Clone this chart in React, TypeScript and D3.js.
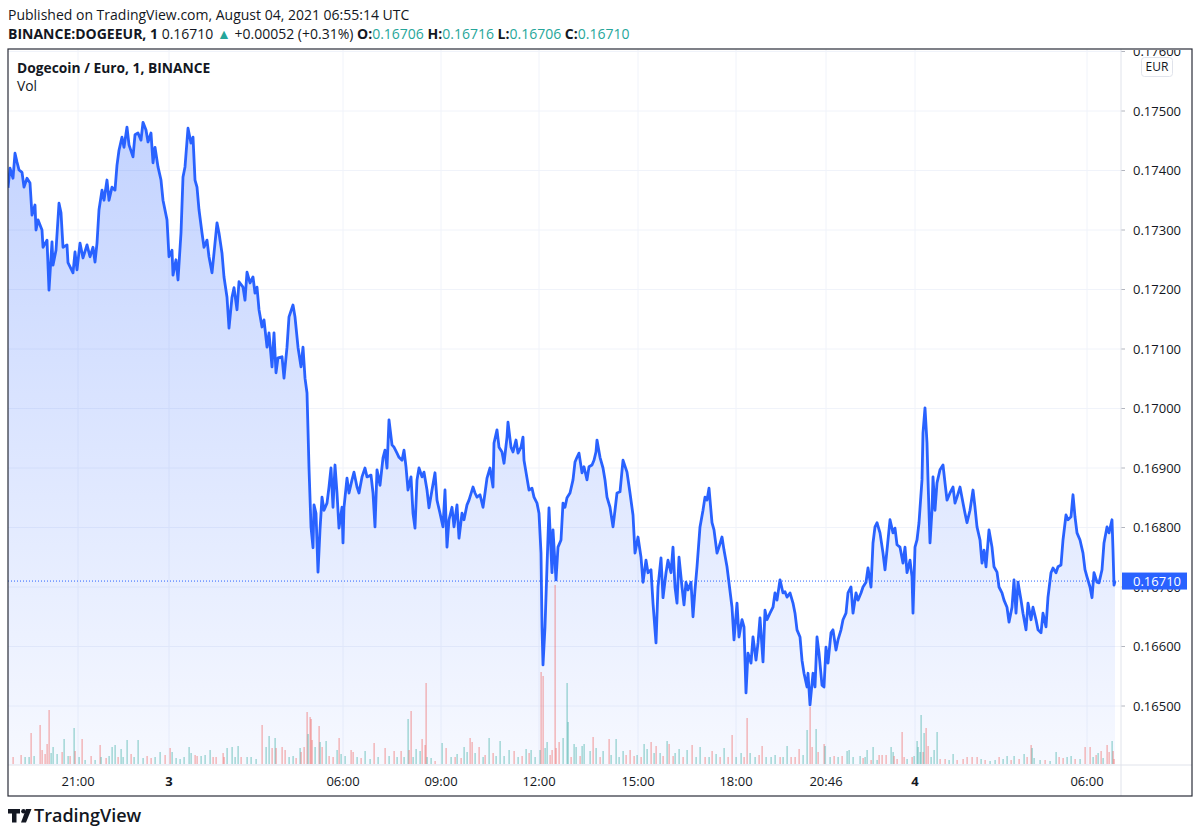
import React from 'react';
import * as d3 from 'd3';

// 1-minute closes, DOGE/EUR on Binance. [bar index, close]
type Pt = [number, number];

const aug2Evening: Pt[] = [
  [0, 0.17371], [4, 0.17404], [10, 0.17387], [14, 0.17429], [18, 0.17414], [22, 0.17401], [28, 0.17397],
  [32, 0.17372], [38, 0.17387], [44, 0.17379], [48, 0.17325], [54, 0.17342], [56, 0.173], [60, 0.17317],
  [68, 0.173], [70, 0.17271], [78, 0.17283], [82, 0.17199], [88, 0.1728], [90, 0.17241], [96, 0.17266],
  [102, 0.17345], [106, 0.17329], [110, 0.17271], [118, 0.17275], [120, 0.17245], [130, 0.17228],
  [134, 0.17263], [138, 0.17233], [144, 0.17278], [150, 0.17253], [158, 0.17275], [164, 0.17255],
  [170, 0.17271], [174, 0.17246], [178, 0.17278], [182, 0.17334], [188, 0.17367], [192, 0.1735],
  [198, 0.17384], [202, 0.1735], [208, 0.17372], [214, 0.17367], [218, 0.17409], [222, 0.17434],
  [228, 0.17456], [232, 0.17439], [238, 0.17473], [242, 0.17443], [250, 0.17423], [254, 0.1746],
  [260, 0.17463], [266, 0.17451], [270, 0.17481], [276, 0.17468], [280, 0.17448], [286, 0.17463],
  [290, 0.17413], [294, 0.17439], [300, 0.17406], [306, 0.17384], [310, 0.1735], [318, 0.17317],
];

const aug3Night: Pt[] = [
  [322, 0.17255], [328, 0.17266], [330, 0.17224], [336, 0.1725], [340, 0.17216], [346, 0.17295],
  [350, 0.17389], [354, 0.17406], [360, 0.17471], [366, 0.17446], [370, 0.17456], [374, 0.17384],
  [378, 0.17372], [382, 0.17334], [388, 0.17295], [392, 0.17271], [398, 0.17283], [402, 0.17255],
  [408, 0.17228], [412, 0.17261], [418, 0.17312], [422, 0.17295], [428, 0.17261], [432, 0.17221],
  [438, 0.17187], [442, 0.17135], [448, 0.17187], [452, 0.17203], [458, 0.17166], [462, 0.17213],
  [470, 0.17204], [474, 0.17182], [478, 0.17229], [484, 0.17211], [490, 0.17221], [494, 0.17194],
  [498, 0.17204], [502, 0.17166], [508, 0.17137], [512, 0.17149], [518, 0.17103], [522, 0.17127],
  [528, 0.1707], [532, 0.17127], [536, 0.1706], [540, 0.17085], [548, 0.17087], [552, 0.17051],
  [558, 0.17103], [562, 0.17154], [570, 0.17174], [574, 0.17154], [580, 0.17103], [586, 0.1707],
  [590, 0.17103], [594, 0.17051], [598, 0.17026], [600, 0.16964], [602, 0.169], [606, 0.16801],
  [610, 0.16766], [612, 0.16838], [616, 0.16824], [620, 0.16725], [624, 0.16796], [628, 0.16851],
  [632, 0.16829], [638, 0.16841], [642, 0.16868], [646, 0.169], [650, 0.16834], [654, 0.16905],
  [658, 0.16858], [662, 0.16799], [668, 0.16834],
];

const aug3Day: Pt[] = [
  [670, 0.16774], [672, 0.16834], [678, 0.16883], [682, 0.16858], [688, 0.1688], [692, 0.16893],
  [698, 0.16868], [702, 0.16858], [708, 0.16885], [714, 0.169], [718, 0.16885], [726, 0.16888],
  [730, 0.16858], [734, 0.16801], [738, 0.16897], [744, 0.16871], [750, 0.16917], [754, 0.1693],
  [758, 0.169], [762, 0.16981], [768, 0.16939], [772, 0.16935], [778, 0.16925], [782, 0.16918],
  [788, 0.16913], [792, 0.1693], [796, 0.16902], [800, 0.16863], [806, 0.16885], [810, 0.16824],
  [814, 0.16799], [818, 0.1688], [822, 0.169], [828, 0.16885], [832, 0.16893], [838, 0.16863],
  [842, 0.16833], [848, 0.16863], [854, 0.16892], [858, 0.16846], [864, 0.16824], [870, 0.16801],
  [874, 0.16863], [878, 0.16767], [882, 0.16813], [888, 0.16834], [892, 0.16801], [898, 0.16838],
  [902, 0.16782], [908, 0.16824], [912, 0.16813], [918, 0.16838], [922, 0.16846], [930, 0.16868],
  [934, 0.16858], [938, 0.16851], [944, 0.16855], [950, 0.16834], [954, 0.16858], [958, 0.16883],
  [964, 0.169], [970, 0.16868], [972, 0.16942], [978, 0.16964], [982, 0.16935], [988, 0.16927],
  [992, 0.16908], [998, 0.16952], [1000, 0.16977], [1006, 0.16935], [1010, 0.16927], [1016, 0.16947],
  [1020, 0.16925], [1026, 0.16935], [1030, 0.16952], [1032, 0.16913], [1038, 0.16883], [1042, 0.16863],
  [1048, 0.16866], [1052, 0.16851], [1058, 0.16841], [1062, 0.16824], [1066, 0.16757], [1068, 0.16633],
  [1070, 0.16569], [1074, 0.16633], [1078, 0.16734], [1082, 0.16833], [1088, 0.16724], [1090, 0.16796],
  [1096, 0.16712], [1100, 0.16767], [1106, 0.16779], [1110, 0.16841], [1114, 0.16834], [1118, 0.1685],
  [1124, 0.16858], [1130, 0.1688], [1134, 0.1691], [1138, 0.16918], [1142, 0.16925], [1148, 0.16892],
  [1152, 0.16902], [1158, 0.1688], [1162, 0.16902], [1168, 0.16905], [1172, 0.16913], [1176, 0.16927],
  [1178, 0.16947], [1184, 0.16918], [1190, 0.169], [1194, 0.1688], [1198, 0.16851], [1204, 0.16834],
  [1210, 0.16801], [1214, 0.16829], [1218, 0.16858],
];

const aug3Evening: Pt[] = [
  [1224, 0.1686], [1230, 0.16913], [1238, 0.16893], [1244, 0.16858], [1250, 0.16821], [1254, 0.16757],
  [1260, 0.16784], [1266, 0.1675], [1270, 0.16708], [1276, 0.16745], [1280, 0.16724], [1286, 0.16729],
  [1290, 0.16673], [1296, 0.16606], [1300, 0.167], [1306, 0.16749], [1310, 0.16682], [1316, 0.16724],
  [1320, 0.16745], [1326, 0.16724], [1330, 0.16767], [1334, 0.167], [1338, 0.16673], [1342, 0.1675],
  [1348, 0.167], [1352, 0.1667], [1356, 0.16708], [1360, 0.16695], [1366, 0.16708], [1370, 0.1665],
  [1374, 0.16695], [1378, 0.16734], [1384, 0.16801], [1390, 0.16829], [1394, 0.16851], [1398, 0.16846],
  [1402, 0.16866], [1408, 0.16808], [1412, 0.16796], [1418, 0.16757], [1422, 0.16767], [1428, 0.16784],
  [1432, 0.16762], [1438, 0.16734], [1442, 0.16707], [1448, 0.16666], [1452, 0.16611], [1458, 0.16673],
  [1462, 0.16616], [1468, 0.16645], [1472, 0.16633], [1476, 0.16522], [1480, 0.16589], [1486, 0.16572],
  [1490, 0.16616], [1496, 0.16577], [1500, 0.16606], [1504, 0.16648], [1510, 0.16574], [1514, 0.16661],
  [1518, 0.16645], [1524, 0.16656], [1530, 0.16666], [1534, 0.1669], [1538, 0.16678], [1544, 0.16712],
  [1550, 0.1669], [1554, 0.16692], [1558, 0.16683], [1564, 0.1669], [1570, 0.16673], [1574, 0.16656],
  [1578, 0.16628], [1584, 0.16616], [1588, 0.16577], [1592, 0.16555], [1598, 0.16532], [1600, 0.16555],
  [1604, 0.16502], [1610, 0.16555], [1614, 0.16532], [1618, 0.16616], [1622, 0.16589], [1628, 0.16535],
  [1632, 0.16532], [1636, 0.16599], [1640, 0.16572], [1646, 0.16623], [1650, 0.16628], [1656, 0.16594],
  [1660, 0.16611], [1666, 0.16628], [1670, 0.16645], [1676, 0.16656], [1680, 0.1669], [1686, 0.167],
  [1690, 0.16656], [1696, 0.1669], [1700, 0.16678], [1706, 0.1669], [1710, 0.167], [1716, 0.16708],
  [1720, 0.16732], [1726, 0.167], [1730, 0.16774], [1734, 0.16801], [1738, 0.16808], [1744, 0.16791],
  [1750, 0.16757], [1754, 0.16729], [1758, 0.16762], [1764, 0.16813], [1770, 0.16791], [1774, 0.16799],
  [1778, 0.16771], [1784, 0.16767], [1790, 0.1674], [1794, 0.16767], [1798, 0.16724], [1804, 0.16745],
  [1808, 0.16717], [1810, 0.16656],
];

const aug4Morning: Pt[] = [
  [1814, 0.16767], [1818, 0.16779], [1822, 0.16808], [1828, 0.1688], [1830, 0.16959], [1834, 0.17001],
  [1838, 0.16942], [1840, 0.1688], [1844, 0.16774], [1848, 0.16829], [1850, 0.16885], [1854, 0.16829],
  [1858, 0.16875], [1864, 0.16897], [1870, 0.16905], [1874, 0.16875], [1878, 0.16846], [1884, 0.16858],
  [1890, 0.16868], [1894, 0.16841], [1898, 0.16851], [1904, 0.16868], [1910, 0.16841], [1914, 0.16824],
  [1918, 0.16808], [1924, 0.16829], [1930, 0.16863], [1934, 0.16834], [1938, 0.16801], [1944, 0.16779],
  [1948, 0.1674], [1952, 0.16762], [1956, 0.16734], [1962, 0.16796], [1968, 0.16767], [1972, 0.16734],
  [1978, 0.16725], [1982, 0.167], [1988, 0.1669], [1992, 0.16678], [1998, 0.16666], [2002, 0.16641],
  [2008, 0.16666], [2012, 0.16712], [2016, 0.16656], [2020, 0.16708], [2026, 0.16678], [2030, 0.16656],
  [2036, 0.16628], [2040, 0.16673], [2046, 0.16645], [2050, 0.16666], [2056, 0.16645], [2060, 0.16628],
  [2066, 0.16623], [2070, 0.16656], [2076, 0.16633], [2080, 0.16683], [2086, 0.16724], [2090, 0.16732],
  [2096, 0.16724], [2100, 0.16734], [2106, 0.16737], [2110, 0.16779], [2116, 0.16821], [2120, 0.16813],
  [2126, 0.16818], [2130, 0.16855], [2134, 0.16818], [2138, 0.16791], [2144, 0.16779], [2150, 0.16757],
  [2154, 0.16729], [2158, 0.16717], [2164, 0.167], [2168, 0.16682], [2172, 0.16724], [2178, 0.16708],
  [2182, 0.16707], [2188, 0.16729], [2192, 0.16774], [2198, 0.16801], [2202, 0.16791], [2208, 0.16813],
  [2210, 0.16762], [2212, 0.16703], [2214, 0.1671],
];

// volume spikes: [bar, volume in k DOGE, 1 = up / -1 = down]
type Vol = [number, number, number];
const volumeBars: Vol[] = [
  [10, 7, -1], [26, 9, -1], [34, 7, 1], [42, 7, 1], [46, 31, -1], [52, 8, 1], [64, 39, -1], [68, 14, -1],
  [74, 10, -1], [78, 20, -1], [82, 54, -1], [86, 11, 1], [90, 17, 1], [98, 10, 1], [108, 12, -1],
  [112, 25, 1], [120, 8, 1], [124, 8, -1], [132, 36, 1], [134, 13, -1], [142, 7, 1], [148, 25, -1],
  [154, 4, 1], [166, 8, -1], [174, 4, 1], [184, 19, -1], [186, 7, 1], [196, 6, -1], [202, 8, 1],
  [208, 17, 1], [214, 19, 1], [220, 7, -1], [226, 15, 1], [230, 7, 1], [238, 24, 1], [246, 10, -1],
  [252, 7, 1], [260, 24, 1], [270, 6, 1], [278, 8, -1], [286, 6, -1], [294, 7, 1], [304, 12, 1],
  [314, 9, -1], [324, 16, -1], [328, 12, 1], [336, 6, 1], [344, 5, 1], [352, 7, 1], [362, 17, 1],
  [366, 11, 1], [374, 9, -1], [378, 8, -1], [386, 8, 1], [394, 9, 1], [404, 14, 1], [410, 7, -1],
  [416, 7, -1], [430, 11, -1], [432, 7, -1], [438, 16, 1], [448, 17, 1], [454, 7, 1], [460, 18, 1],
  [466, 7, -1], [478, 7, 1], [486, 7, 1], [496, 5, 1], [508, 39, -1], [516, 17, 1], [522, 28, 1],
  [528, 16, -1], [534, 26, 1], [536, 16, -1], [548, 17, -1], [554, 14, -1], [562, 7, 1], [570, 8, 1],
  [576, 6, -1], [584, 16, 1], [586, 12, -1], [592, 17, -1], [598, 52, -1], [600, 30, 1], [604, 47, -1],
  [606, 45, -1], [608, 24, -1], [614, 17, 1], [622, 38, -1], [624, 22, 1], [628, 17, -1], [636, 23, 1],
  [642, 8, -1], [650, 7, -1], [658, 14, 1], [662, 26, -1], [666, 10, 1], [674, 8, 1], [686, 14, -1],
  [690, 12, -1], [698, 7, 1], [706, 6, -1], [714, 13, 1], [724, 5, 1], [732, 21, -1], [740, 7, 1],
  [754, 16, -1], [762, 8, 1], [772, 13, -1], [778, 7, 1], [786, 13, -1], [792, 7, 1], [800, 45, 1],
  [802, 14, -1], [806, 53, -1], [810, 7, 1], [816, 15, 1], [824, 13, 1], [828, 25, -1], [834, 19, -1],
  [836, 81, -1], [838, 7, 1], [846, 6, 1], [854, 3, -1], [868, 21, 1], [876, 16, -1], [886, 7, 1],
  [894, 7, -1], [898, 10, 1], [906, 6, -1], [912, 17, 1], [918, 12, 1], [924, 26, -1], [928, 22, -1],
  [934, 11, 1], [942, 17, -1], [950, 7, 1], [954, 9, -1], [962, 26, 1], [970, 11, -1], [976, 8, 1],
  [984, 23, 1], [992, 8, 1], [1002, 14, 1], [1012, 13, -1], [1020, 7, 1], [1028, 8, -1], [1036, 15, 1],
  [1042, 11, -1], [1046, 14, 1], [1054, 7, 1], [1064, 14, 1], [1066, 92, -1], [1070, 88, -1],
  [1074, 16, 1], [1078, 22, 1], [1084, 9, -1], [1088, 14, -1], [1094, 179, -1], [1096, 16, -1],
  [1102, 22, -1], [1110, 26, 1], [1118, 81, 1], [1120, 42, 1], [1126, 7, -1], [1132, 20, 1],
  [1136, 17, 1], [1144, 8, -1], [1148, 18, 1], [1152, 20, 1], [1164, 13, 1], [1170, 27, -1],
  [1176, 16, 1], [1184, 7, -1], [1190, 13, 1], [1202, 25, -1], [1206, 9, 1], [1216, 25, 1], [1222, 7, 1],
  [1230, 13, 1], [1236, 9, -1], [1244, 14, -1], [1252, 8, -1], [1258, 9, 1], [1266, 7, -1], [1272, 20, 1],
  [1278, 15, 1], [1286, 22, -1], [1292, 11, 1], [1296, 18, -1], [1304, 11, 1], [1310, 8, -1],
  [1318, 23, 1], [1322, 20, -1], [1330, 8, -1], [1334, 11, 1], [1342, 15, 1], [1350, 7, -1],
  [1358, 14, 1], [1368, 19, -1], [1376, 7, 1], [1384, 17, 1], [1394, 7, -1], [1402, 7, 1], [1408, 13, -1],
  [1416, 10, 1], [1424, 7, -1], [1432, 16, 1], [1440, 7, -1], [1448, 29, -1], [1456, 7, 1], [1466, 11, 1],
  [1472, 7, -1], [1478, 46, -1], [1484, 11, 1], [1494, 7, 1], [1502, 9, -1], [1508, 18, -1], [1516, 7, 1],
  [1526, 7, 1], [1534, 9, 1], [1544, 7, -1], [1550, 7, 1], [1558, 18, 1], [1566, 7, -1], [1574, 7, -1],
  [1582, 15, -1], [1590, 9, 1], [1598, 34, 1], [1604, 57, -1], [1608, 17, -1], [1616, 35, 1],
  [1620, 12, -1], [1632, 20, -1], [1634, 18, 1], [1644, 7, 1], [1652, 8, -1], [1660, 7, 1], [1668, 8, -1],
  [1678, 13, 1], [1682, 14, 1], [1690, 7, 1], [1704, 8, 1], [1710, 6, -1], [1714, 7, 1], [1718, 14, 1],
  [1726, 4, -1], [1730, 17, 1], [1738, 4, 1], [1742, 9, -1], [1748, 9, -1], [1756, 9, -1], [1766, 17, 1],
  [1770, 12, 1], [1772, 8, -1], [1778, 5, -1], [1788, 32, -1], [1792, 7, -1], [1798, 5, 1], [1808, 7, -1],
  [1812, 8, 1], [1818, 23, 1], [1820, 17, 1], [1824, 12, 1], [1826, 49, 1], [1830, 12, -1], [1832, 31, 1],
  [1836, 36, -1], [1840, 18, -1], [1846, 7, 1], [1852, 14, 1], [1858, 32, 1], [1864, 5, -1], [1874, 5, -1],
  [1882, 4, 1], [1890, 10, 1], [1898, 4, -1], [1910, 5, -1], [1918, 7, -1], [1928, 7, -1], [1938, 7, -1],
  [1946, 5, 1], [1954, 4, -1], [1964, 3, 1], [1974, 4, 1], [1982, 7, -1], [1990, 5, 1], [1998, 8, 1],
  [2006, 4, -1], [2012, 8, 1], [2022, 5, -1], [2032, 10, 1], [2038, 7, -1], [2046, 19, -1], [2048, 16, 1],
  [2052, 6, 1], [2064, 4, 1], [2074, 4, -1], [2084, 3, 1], [2096, 12, 1], [2102, 7, -1], [2110, 6, -1],
  [2118, 7, 1], [2126, 8, 1], [2134, 5, -1], [2144, 5, 1], [2154, 17, -1], [2164, 17, -1], [2170, 7, 1],
  [2176, 9, -1], [2180, 11, 1], [2186, 13, -1], [2190, 6, 1], [2198, 19, -1], [2202, 12, -1],
  [2208, 23, 1], [2210, 13, -1], [2212, 5, -1],
];

const timeTickBars = [140, 322, 670, 866, 1062, 1260, 1456, 1636, 1814, 2158];
const timeTickLabels = ['21:00', '3', '06:00', '09:00', '12:00', '15:00', '18:00', '20:46', '4', '06:00'];
const dayStarts = ['3', '4'];
const priceTicks = [0.165, 0.166, 0.167, 0.168, 0.169, 0.17, 0.171, 0.172, 0.173, 0.174, 0.175, 0.176];
const lastPrice = 0.1671;
const lastBar = 2214;

const FONT = '"Open Sans", "Noto Sans", sans-serif';
const TEXT = '#131722';
const TEAL = '#26a69a';
const BLUE = '#2962ff';

// frame geometry
const frame = { left: 8, top: 49, right: 1192, bottom: 796 };
const axisX = 1121; // price scale border
const paneBottom = 765;

export default function App() {
  const series = [...aug2Evening, ...aug3Night, ...aug3Day, ...aug3Evening, ...aug4Morning];

  const x = d3.scaleLinear().domain([0, lastBar]).range([8, 1115]);
  const y = d3.scaleLinear().domain([0.165, 0.175]).range([706, 111]);
  const vol = d3.scaleLinear().domain([0, 179]).range([764, 585]);

  const line = d3
    .line<Pt>()
    .x((d) => x(d[0]))
    .y((d) => y(d[1]));

  const area = d3
    .area<Pt>()
    .x((d) => x(d[0]))
    .y0(paneBottom)
    .y1((d) => y(d[1]));

  const topY = y(d3.max(series, (d) => d[1]) as number);

  return (
    <svg
      width={1200}
      height={837}
      style={{ position: 'absolute', left: 0, top: 0, background: '#fff' }}
      fontFamily={FONT}
    >
      <defs>
        <linearGradient id="areaFill" gradientUnits="userSpaceOnUse" x1={0} x2={0} y1={topY} y2={paneBottom}>
          <stop offset="0%" stopColor={BLUE} stopOpacity={0.28} />
          <stop offset="100%" stopColor={BLUE} stopOpacity={0.04} />
        </linearGradient>
        <clipPath id="pane">
          <rect x={frame.left} y={frame.top} width={axisX - frame.left} height={paneBottom - frame.top} />
        </clipPath>
        <clipPath id="priceAxis">
          <rect x={axisX} y={frame.top + 1} width={frame.right - axisX} height={paneBottom - frame.top} />
        </clipPath>
      </defs>

      {/* header */}
      <text x={8} y={20} fontSize={14} fill={TEXT}>
        Published on TradingView.com, August 04, 2021 06:55:14 UTC
      </text>
      <text x={8} y={39} fontSize={14} fill={TEXT} style={{ whiteSpace: 'pre' }}>
        <tspan fontWeight={700}>BINANCE:DOGEEUR, 1</tspan>
        <tspan> 0.16710 </tspan>
        <tspan fill={TEAL}>▲</tspan>
        <tspan> +0.00052 (+0.31%) </tspan>
        <tspan fontWeight={700}>O:</tspan>
        <tspan fill={TEAL}>0.16706</tspan>
        <tspan fontWeight={700}> H:</tspan>
        <tspan fill={TEAL}>0.16716</tspan>
        <tspan fontWeight={700}> L:</tspan>
        <tspan fill={TEAL}>0.16706</tspan>
        <tspan fontWeight={700}> C:</tspan>
        <tspan fill={TEAL}>0.16710</tspan>
      </text>

      {/* pane */}
      <g clipPath="url(#pane)">
        {priceTicks.map((p) => (
          <line key={p} x1={frame.left} x2={axisX} y1={y(p)} y2={y(p)} stroke="#f0f3fa" />
        ))}
        {timeTickBars.map((b, i) => (
          <line key={i} x1={x(b)} x2={x(b)} y1={frame.top} y2={paneBottom} stroke="#f0f3fa" />
        ))}
        <path d={area(series) ?? ''} fill="url(#areaFill)" />
        {volumeBars.map(([b, v, dir], i) => (
          <rect
            key={i}
            x={x(b) - 0.5}
            width={1.2}
            y={vol(v)}
            height={vol(0) - vol(v)}
            fill={dir > 0 ? 'rgba(38,166,154,0.5)' : 'rgba(239,83,80,0.5)'}
          />
        ))}
        <path d={line(series) ?? ''} fill="none" stroke={BLUE} strokeWidth={2.8} strokeLinejoin="round" />
        <line
          x1={frame.left}
          x2={axisX}
          y1={y(lastPrice)}
          y2={y(lastPrice)}
          stroke={BLUE}
          strokeWidth={1}
          strokeDasharray="1 2"
        />
      </g>

      {/* legend */}
      <text x={17} y={73} fontSize={13.8} fontWeight={700} fill={TEXT}>
        Dogecoin / Euro, 1, BINANCE
      </text>
      <text x={17} y={91} fontSize={13.8} fill={TEXT}>
        Vol
      </text>

      {/* price scale */}
      <g clipPath="url(#priceAxis)">
        {priceTicks.map((p) => (
          <g key={p}>
            <line x1={axisX} x2={axisX + 4} y1={y(p)} y2={y(p)} stroke="#b2b5be" />
            <text x={1133} y={y(p) + 4.5} fontSize={13} fill={TEXT}>
              {p.toFixed(5)}
            </text>
          </g>
        ))}
        <rect x={axisX + 1} y={y(lastPrice) - 8.5} width={65} height={17} fill={BLUE} />
        <text x={1133} y={y(lastPrice) + 4.5} fontSize={13} fill="#fff">
          {lastPrice.toFixed(5)}
        </text>
      </g>
      <rect x={1141.5} y={57.5} width={31} height={19} rx={3} fill="#fff" stroke="#e0e3eb" />
      <text x={1157} y={71} fontSize={12} textAnchor="middle" fill={TEXT}>
        EUR
      </text>

      {/* time scale */}
      {timeTickBars.map((b, i) => (
        <text
          key={i}
          x={x(b)}
          y={786}
          fontSize={13}
          textAnchor="middle"
          fontWeight={dayStarts.includes(timeTickLabels[i]) ? 700 : 400}
          fill={TEXT}
        >
          {timeTickLabels[i]}
        </text>
      ))}

      {/* borders */}
      <line x1={frame.left} x2={frame.right} y1={paneBottom} y2={paneBottom} stroke="#e0e3eb" />
      <line x1={axisX} x2={axisX} y1={frame.top} y2={frame.bottom} stroke="#e0e3eb" />
      <rect
        x={frame.left}
        y={frame.top}
        width={frame.right - frame.left}
        height={frame.bottom - frame.top}
        fill="none"
        stroke="#2a2e39"
        strokeWidth={1.2}
      />

      {/* logo */}
      <g fill={TEXT}>
        <path d="M8 809h12v4.5h-3.5v9h-4.5v-9H8z" />
        <circle cx={23.5} cy={811.2} r={2.3} />
        <path d="M26 809h5.5l-5.5 13.5h-5z" />
      </g>
      <text x={34} y={822} fontSize={18} fontWeight={600} fill={TEXT}>
        TradingView
      </text>
    </svg>
  );
}
